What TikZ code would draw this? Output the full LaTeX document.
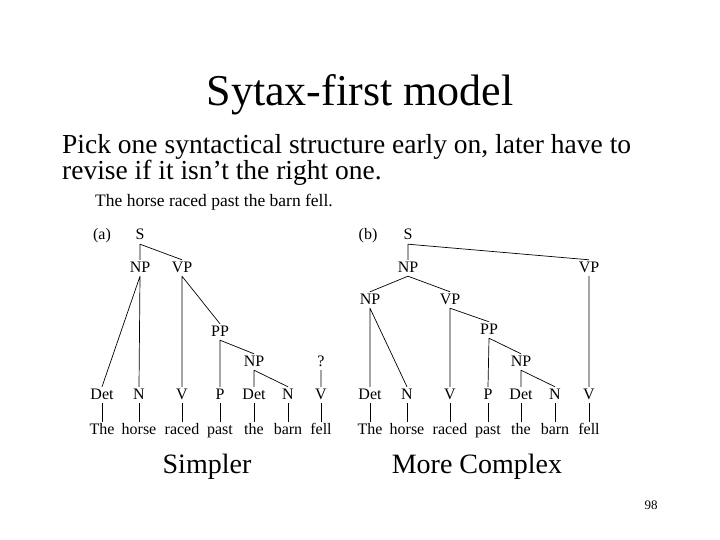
\documentclass[tikz,border=0pt]{standalone}
\usepackage{fontspec}
\setmainfont{Liberation Serif}
\begin{document}
\begin{tikzpicture}[x=1pt,y=-1pt,
 tn/.style={inner sep=1pt,font=\fontsize{16}{18}\selectfont,text height=11pt,text depth=3pt},
 br/.style={line width=0.7pt}]
\useasboundingbox (0,0) rectangle (720,540);
\node (title) at (360,95) {\fontsize{44}{50}\selectfont Sytax-first model};
\node[anchor=west,align=left,inner sep=0] (body) at (62,160) {\fontsize{27.5}{34}\selectfont Pick one syntactical structure early on, later have to\\ \fontsize{27.5}{34}\selectfont revise if it isn’t the right one.};
\node[tn,anchor=west,font=\fontsize{17.5}{19}\selectfont] (sent) at (94,203) {The horse raced past the barn fell.};
% tree a
\node[tn] (al) at (102,236) {(a)};
\node[tn] (aS) at (140,236) {S};
\node[tn] (aNP) at (140,268) {NP};
\node[tn] (aVP) at (182,268) {VP};
\node[tn] (aPP) at (220,332) {PP};
\node[tn] (aNP2) at (254,362) {NP};
\node[tn] (aq) at (321,362) {?};
\foreach \n/\x/\l/\w in {1/102/Det/The,2/139/N/horse,3/182/V/raced,4/220/P/past,5/254/Det/the,6/288/N/barn,7/321/V/fell}{
 \node[tn] (aL\n) at (\x,395) {\l};
 \node[tn] (aW\n) at (\x,430) {\w};
 \draw[br] (aL\n.south) -- (aW\n.north);}
\draw[br] (aS.south) -- (aNP.north) (aS.south) -- (aVP.north)
 (aNP.south) -- (aL1.north) (aNP.south) -- (aL2.north)
 (aVP.south) -- (aL3.north) (aVP.south) -- (aPP.north)
 (aPP.south) -- (aL4.north) (aPP.south) -- (aNP2.north)
 (aNP2.south) -- (aL5.north) (aNP2.south) -- (aL6.north)
 (aq.south) -- (aL7.north);
% tree b
\node[tn] (bl) at (368,236) {(b)};
\node[tn] (bS) at (408,236) {S};
\node[tn] (bNP) at (408,268) {NP};
\node[tn] (bVPt) at (589,268) {VP};
\node[tn] (bNP1) at (370,300) {NP};
\node[tn] (bVP) at (450,300) {VP};
\node[tn] (bPP) at (489,330) {PP};
\node[tn] (bNP2) at (521,362) {NP};
\foreach \n/\x/\l/\w in {1/370/Det/The,2/407/N/horse,3/450/V/raced,4/488/P/past,5/521/Det/the,6/555/N/barn,7/589/V/fell}{
 \node[tn] (bL\n) at (\x,395) {\l};
 \node[tn] (bW\n) at (\x,430) {\w};
 \draw[br] (bL\n.south) -- (bW\n.north);}
\draw[br] (bS.south) -- (bNP.north) (bS.south) -- (bVPt.north)
 (bNP.south) -- (bNP1.north) (bNP.south) -- (bVP.north)
 (bNP1.south) -- (bL1.north) (bNP1.south) -- (bL2.north)
 (bVP.south) -- (bL3.north) (bVP.south) -- (bPP.north)
 (bPP.south) -- (bL4.north) (bPP.south) -- (bNP2.north)
 (bNP2.south) -- (bL5.north) (bNP2.south) -- (bL6.north)
 (bVPt.south) -- (bL7.north);
\node (simp) at (207,467) {\fontsize{28}{32}\selectfont Simpler};
\node (comp) at (477,467) {\fontsize{28}{32}\selectfont More Complex};
\node (pg) at (651,505) {\fontsize{13}{15}\selectfont 98};
\end{tikzpicture}
\end{document}
